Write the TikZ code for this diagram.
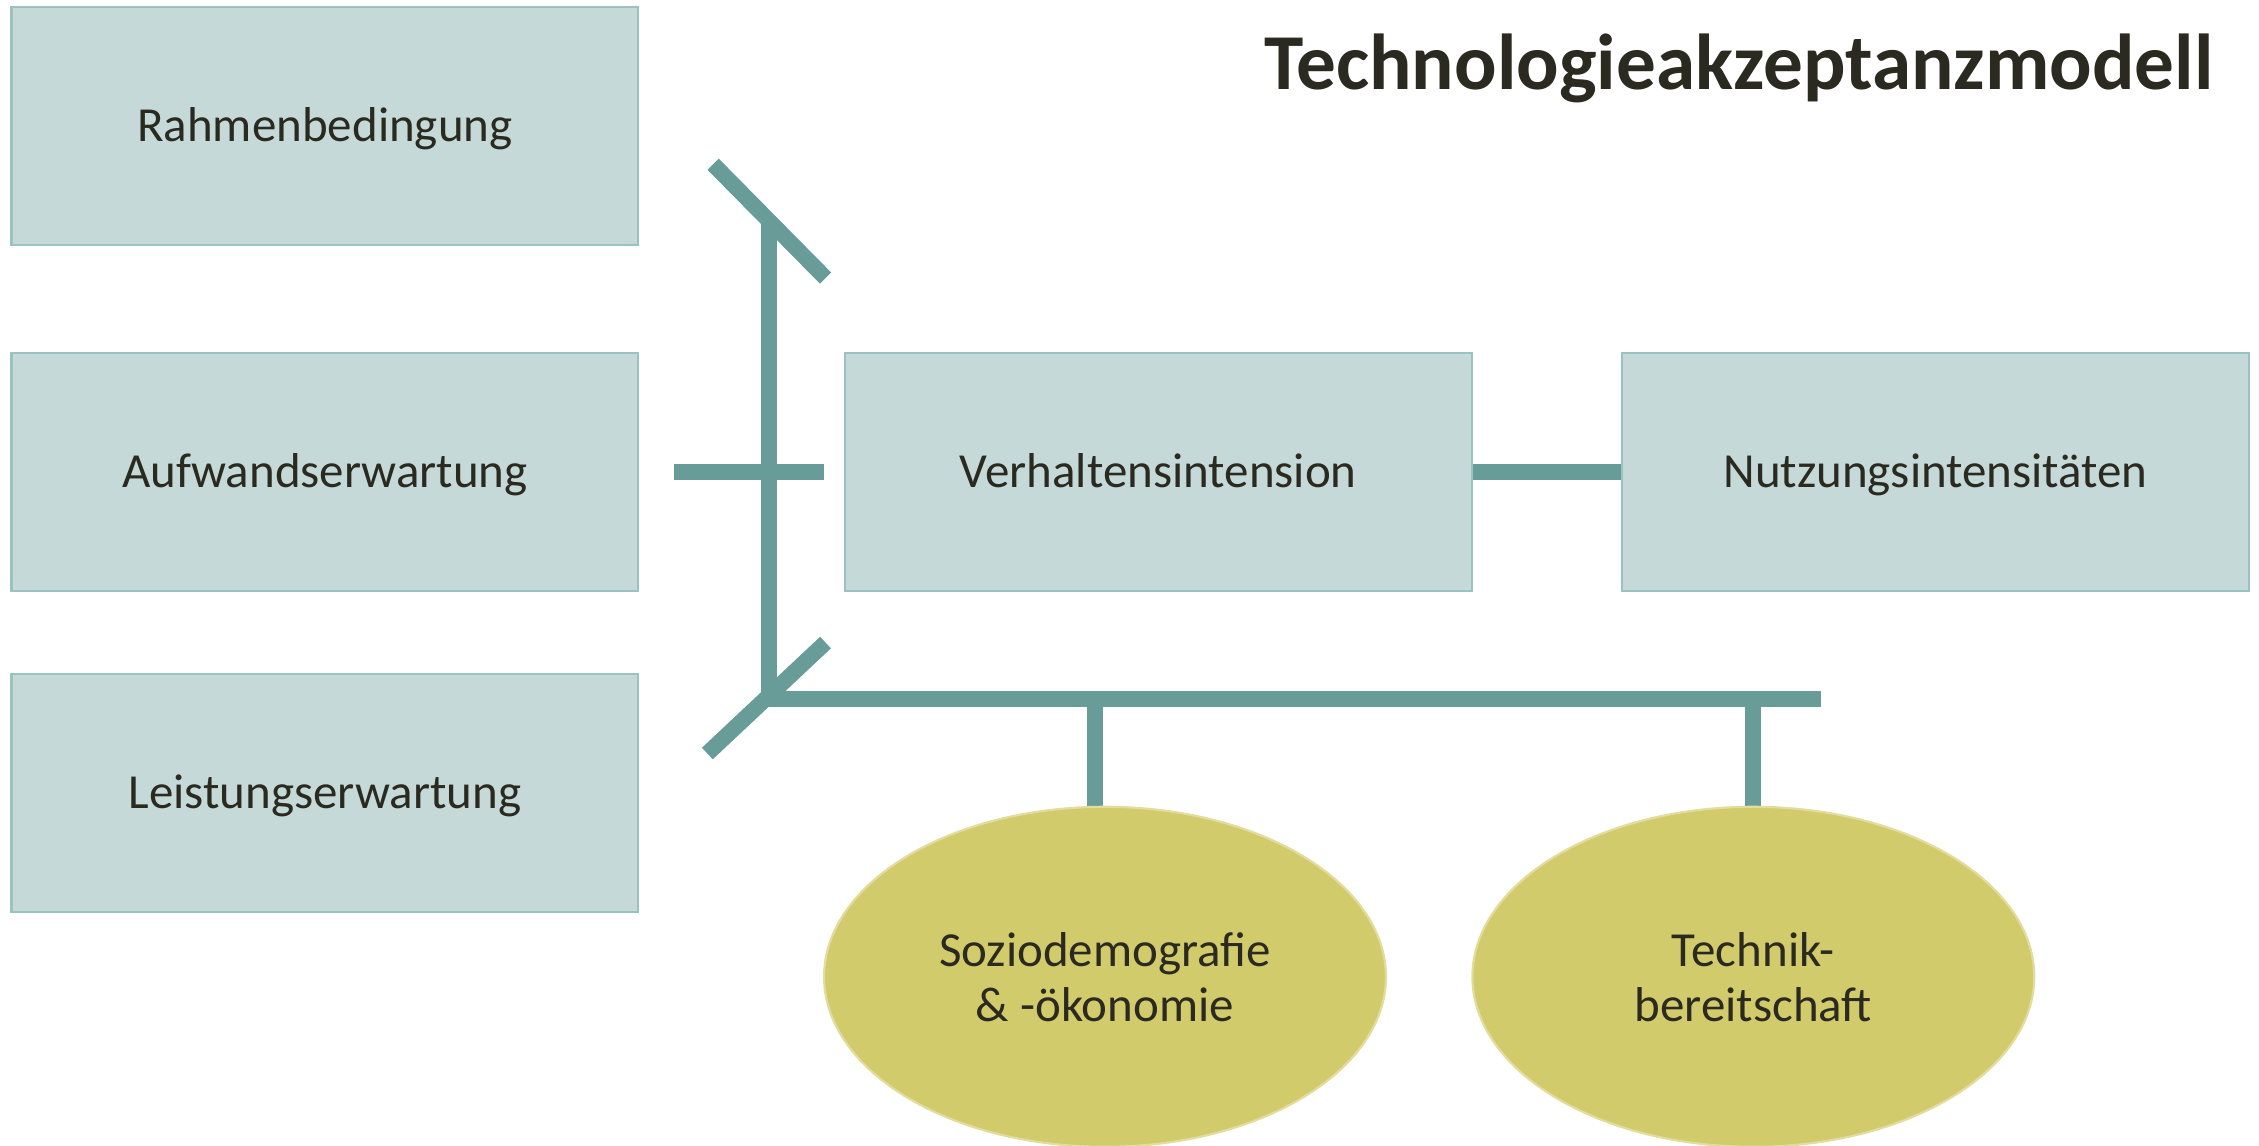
\documentclass[tikz,border=0pt]{standalone}
\usepackage{fontspec}
\setmainfont{Carlito}
\usetikzlibrary{shapes.geometric,backgrounds}
\definecolor{boxfill}{HTML}{C6D9D9}
\definecolor{boxline}{HTML}{9CC2BF}
\definecolor{ellfill}{HTML}{D2CB6C}
\definecolor{ellline}{HTML}{E2DC9E}
\definecolor{barc}{HTML}{679C99}
\definecolor{txt}{HTML}{2B2A20}
\begin{document}
\begin{tikzpicture}[x=1pt,y=-1pt,
  box/.style={draw=boxline, fill=boxfill, line width=1.5pt, minimum width=435pt, minimum height=165pt, inner sep=0pt, text height=26pt, text depth=4pt, font=\fontsize{34}{40}\selectfont, text=txt},
  ell/.style={ellipse, draw=ellline, fill=ellfill, line width=1.5pt, minimum width=390pt, minimum height=236pt, inner sep=0pt, align=center, font=\fontsize{34}{38}\selectfont, text=txt},
  bar/.style={draw=barc, line width=11pt}]
\useasboundingbox (0,0) rectangle (1568,795);
\node[anchor=base east, font=\bfseries\fontsize{55}{60}\selectfont, text=txt] (title) at (1540,62) {Technologieakzeptanzmodell};
\node[box] (rahmen) at (225.5,87.5) {Rahmenbedingung};
\node[box] (aufwand) at (225.5,327.5) {Aufwandserwartung};
\node[box] (leistung) at (225.5,550.5) {Leistungserwartung};
\node[box] (verhalten) at (804,327.5) {Verhaltensintension};
\node[box] (nutzung) at (1343.5,327.5) {Nutzungsintensitäten};
\node[ell] (sozio) at (767,678) {Soziodemografie\\\& -ökonomie};
\node[ell] (technik) at (1217,678) {Technik-\\bereitschaft};
\coordinate (jt) at (534,153);
\coordinate (jb) at (534,485);
\coordinate (dt1) at (495,114);
\coordinate (dt2) at (573,193);
\coordinate (db1) at (491,523);
\coordinate (db2) at (573,446);
\coordinate (h1) at (468,327.5);
\coordinate (h2) at (572,327.5);
\coordinate (hr) at (1264,485);
\coordinate (s1) at (760,485);
\coordinate (s2) at (1217,485);
\begin{scope}[on background layer]
\draw[bar] (jt) -- (jb);
\draw[bar] (dt1) -- (dt2);
\draw[bar] (db1) -- (db2);
\draw[bar] (h1) -- (h2);
\draw[bar] ([xshift=-5.5pt]jb) -- (hr);
\draw[bar] (s1) -- (s1 |- sozio.north);
\draw[bar] (s2) -- (technik.north);
\end{scope}
\draw[bar] (verhalten.east) -- (nutzung.west);
\end{tikzpicture}
\end{document}
